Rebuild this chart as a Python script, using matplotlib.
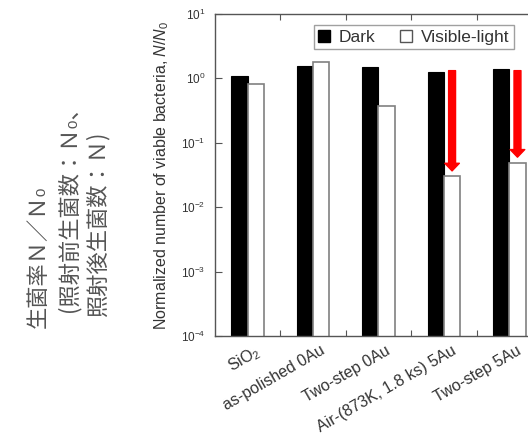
import numpy as np
import matplotlib
matplotlib.use('Agg')
import matplotlib.pyplot as plt
from matplotlib.patches import Patch
from matplotlib.transforms import ScaledTranslation

# ---------------- data ----------------
categories = ['SiO$_2$', 'as-polished 0Au', 'Two-step 0Au',
              'Air-(873K, 1.8 ks) 5Au', 'Two-step 5Au']
dark = [1.10, 1.58, 1.49, 1.27, 1.40]
visible = [0.82, 1.78, 0.37, 0.030, 0.049]
arrow_idx = [3, 4]          # samples with the red "drop" arrow
arrow_top = 1.32

jp_lines = ['生菌率Ｎ／Ｎ₀', '(照射前生菌数：Ｎ₀、', '照射後生菌数：Ｎ)']

# ---------------- style ----------------
plt.rcParams['font.family'] = ['Liberation Sans', 'DejaVu Sans']
plt.rcParams['mathtext.fontset'] = 'custom'
plt.rcParams['mathtext.rm'] = 'Liberation Sans'
plt.rcParams['mathtext.it'] = 'Liberation Sans:italic'
plt.rcParams['mathtext.bf'] = 'Liberation Sans:bold'

SPINE = '#555555'
TXT = '#333333'

fig = plt.figure(figsize=(5.28, 4.48), dpi=100)
ax = fig.add_axes([215 / 528, 1 - 336 / 448, 327 / 528, 322 / 448])

x = np.arange(len(categories))
w = 0.25
ax.bar(x - w / 2, dark, w, color='black', edgecolor='black', linewidth=0.8)
ax.bar(x + w / 2, visible, w, color='white', edgecolor='#808080', linewidth=1.2)

for i in arrow_idx:
    ax.annotate('', xy=(x[i] + w / 2, visible[i] * 1.22), xytext=(x[i] + w / 2, arrow_top),
                arrowprops=dict(arrowstyle='simple,head_width=1.05,head_length=0.55,tail_width=0.5',
                                color='red', shrinkA=0, shrinkB=0, mutation_scale=10))

ax.set_yscale('log')
ax.set_ylim(1e-4, 1e1)
ax.set_xlim(-0.5, len(categories) - 0.5)
ax.yaxis.set_minor_locator(matplotlib.ticker.NullLocator())

# x: labels at category centres, tick marks at the boundaries
ax.set_xticks(x)
ax.set_xticklabels(categories, rotation=30, ha='right', va='top',
                   rotation_mode='anchor', fontsize=11.5, color=TXT)
ax.tick_params(axis='x', which='major', length=0, pad=5)
ax.set_xticks(x[:-1] + 0.5, minor=True)
ax.tick_params(axis='x', which='minor', direction='in', length=4, top=True,
               color=SPINE, width=0.8)
for lab in ax.get_xticklabels():
    lab.set_transform(lab.get_transform() + ScaledTranslation(5 / 72, 0, fig.dpi_scale_trans))

ax.tick_params(axis='y', which='major', direction='in', length=5, color=SPINE,
               width=0.8, labelsize=8.5, labelcolor=TXT, pad=7)

for s in ax.spines.values():
    s.set_color(SPINE)
    s.set_linewidth(1.0)

ax.set_ylabel('Normalized number of viable bacteria, $N/N_0$', fontsize=11.5, color=TXT)
ax.yaxis.set_label_coords(-0.135, 0.5)

handles = [Patch(facecolor='black', edgecolor='black', label='Dark'),
           Patch(facecolor='white', edgecolor='#555555', label='Visible-light')]
leg = ax.legend(handles=handles, loc='upper left', bbox_to_anchor=(0.275, 0.992),
                ncol=2, fontsize=12.5, frameon=True, fancybox=False,
                handlelength=0.7, handleheight=0.7, handletextpad=0.5,
                columnspacing=1.4, borderpad=0.25, labelcolor=TXT)
leg.get_frame().set_edgecolor('#888888')
leg.get_frame().set_linewidth(1.0)

# Japanese annotation on the far left (anchor = baseline x in px, start y in px)
jp_size = 16
jp_anchor_x = [45, 75, 104]
jp_y = [328, 312, 317]
for t, px, py in zip(jp_lines, jp_anchor_x, jp_y):
    fig.text(px / 528, 1 - py / 448, t, rotation=90,
             rotation_mode='anchor', ha='left', va='baseline',
             fontsize=jp_size, color='#555555', family=['Noto Sans CJK JP', 'DejaVu Sans'])

fig.savefig('out.png', dpi=100)
